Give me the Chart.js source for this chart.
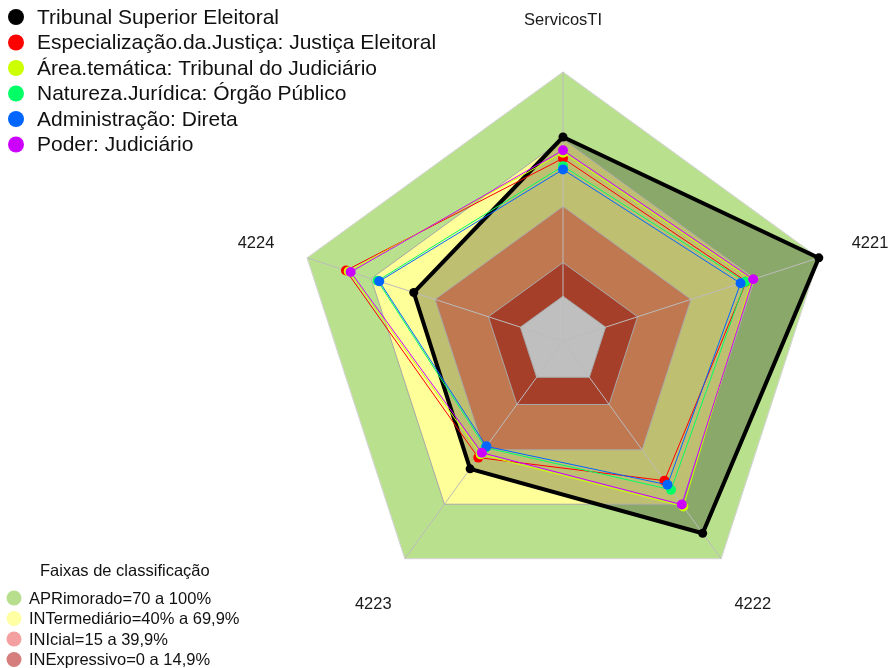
<!DOCTYPE html>
<html>
<head>
<meta charset="utf-8">
<script src="https://cdn.jsdelivr.net/npm/chart.js@4.4.1/dist/chart.umd.min.js"></script>
<style>
  html, body { margin: 0; padding: 0; background: #fff; }
  #wrap { width: 889px; height: 668px; }
</style>
</head>
<body>
<div id="wrap"><canvas id="radar" width="889" height="668"></canvas></div>
<script>
// eixos do radar
const axisLabels = ['ServicosTI', '4221', '4222', '4223', '4224'];

// series
const seriesNames = [
  'Tribunal Superior Eleitoral',
  'Especialização.da.Justiça: Justiça Eleitoral',
  'Área.temática: Tribunal do Judiciário',
  'Natureza.Jurídica: Órgão Público',
  'Administração: Direta',
  'Poder: Judiciário',
];
const seriesColors = ['#000000', '#FF0000', '#CCFF00', '#00FF66', '#0066FF', '#CC00FF'];
const tribunalSuperior = [71, 100, 86, 50.5, 50];
const especializacao = [61.5, 66, 57, 44.3, 81.8];
const areaTematica = [64, 68.5, 71.3, 42.5, 80.5];
const naturezaJuridica = [58, 65.5, 62, 38.8, 67];
const administracao = [56.5, 63.3, 59.3, 38.1, 66.2];
const poder = [65.1, 69.2, 70.2, 41.6, 79.6];
const seriesValues = [tribunalSuperior, especializacao, areaTematica, naturezaJuridica, administracao, poder];

// faixas de classificacao
const bandTitle = 'Faixas de classificação';
const bandNames = ['APRimorado=70 a 100%', 'INTermediário=40% a 69,9%', 'INIcial=15 a 39,9%', 'INExpressivo=0 a 14,9%'];
const bandTops = [100, 70, 40, 15, 0];
const bandFill = ['#B9E08C', '#FFFF99', '#FFA06B', '#DC5539', '#FFFFFF'];
const bandLegendColors = ['#B7DE8C', '#FFFFA3', '#F5A0A0', '#D67E7E'];

// niveis da grade radial
const ringLevels = [-20, 0, 15, 40, 70, 100];

const FONT = '"Liberation Sans", Arial, sans-serif';

const seriesDatasets = seriesValues.map((vals, i) => ({
  label: seriesNames[i],
  data: vals,
  borderColor: seriesColors[i],
  backgroundColor: i === 0 ? 'rgba(0,0,0,0.25)' : 'transparent',
  fill: i === 0 ? 'start' : false,
  borderWidth: i === 0 ? 4 : 1,
  pointRadius: i === 0 ? 4.5 : 5,
  pointBackgroundColor: seriesColors[i],
  pointBorderWidth: 0,
  order: seriesValues.length - i,
}));

const bandDatasets = bandTops.map((top, i) => ({
  label: 'faixa' + top,
  data: axisLabels.map(() => top),
  borderWidth: 0,
  borderColor: 'transparent',
  backgroundColor: bandFill[i],
  fill: 'start',
  pointRadius: 0,
  order: 20 - i,
}));

// grade por cima das faixas, por baixo das series
const gridOverBands = {
  id: 'gridOverBands',
  beforeDatasetDraw(chart, args) {
    if (args.meta.label === seriesNames[0]) {
      chart.scales.r.drawGrid();
    }
  },
};

const labelsAndLegends = {
  id: 'labelsAndLegends',
  afterDraw(chart) {
    const { ctx } = chart;
    const scale = chart.scales.r;
    ctx.save();

    // rotulos dos eixos
    ctx.fillStyle = '#1a1a1a';
    ctx.font = '16.5px ' + FONT;
    ctx.textAlign = 'center';
    ctx.textBaseline = 'middle';
    axisLabels.forEach((lab, i) => {
      const p = scale.getPointPosition(i, scale.drawingArea * 1.2);
      ctx.fillText(lab, p.x, p.y + 2.5);
    });

    // legenda das series
    ctx.textAlign = 'left';
    ctx.font = '21px ' + FONT;
    seriesNames.forEach((name, i) => {
      const y = 17 + i * 25.5;
      ctx.fillStyle = seriesColors[i];
      ctx.beginPath();
      ctx.arc(16, y, 8, 0, Math.PI * 2);
      ctx.fill();
      ctx.fillStyle = '#111';
      ctx.fillText(name, 37, y + 1);
    });

    // legenda das faixas
    ctx.font = '16.5px ' + FONT;
    ctx.fillStyle = '#111';
    ctx.fillText(bandTitle, 40, 571);
    bandNames.forEach((name, i) => {
      const y = 598 + i * 20.5;
      ctx.fillStyle = bandLegendColors[i];
      ctx.beginPath();
      ctx.arc(14, y, 7.5, 0, Math.PI * 2);
      ctx.fill();
      ctx.fillStyle = '#111';
      ctx.fillText(name, 29, y + 1);
    });

    ctx.restore();
  },
};

new Chart(document.getElementById('radar'), {
  type: 'radar',
  data: {
    labels: axisLabels,
    datasets: [...seriesDatasets, ...bandDatasets],
  },
  options: {
    responsive: false,
    animation: false,
    devicePixelRatio: 1,
    layout: { padding: { top: 72, bottom: 58, left: 294, right: 57 } },
    elements: { line: { tension: 0 } },
    plugins: {
      legend: { display: false },
      tooltip: { enabled: false },
    },
    scales: {
      r: {
        min: -20,
        max: 100,
        ticks: { display: false, stepSize: 20 },
        afterBuildTicks: (scale) => {
          scale.ticks = ringLevels.map(v => ({ value: v }));
        },
        pointLabels: { display: false },
        grid: {
          color: ctx => (ctx.tick && ctx.tick.value === 100 ? '#d6d6d6' : '#a8a8a8'),
          lineWidth: 1,
        },
        angleLines: { color: '#bcbcbc', lineWidth: 1 },
      },
    },
  },
  plugins: [gridOverBands, labelsAndLegends],
});
</script>
</body>
</html>
